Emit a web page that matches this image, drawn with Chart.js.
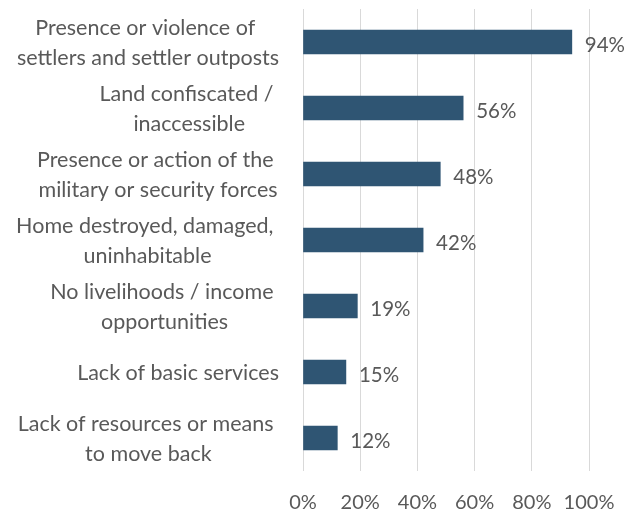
<!DOCTYPE html>
<html>
<head>
<meta charset="utf-8">
<script src="https://cdn.jsdelivr.net/npm/chart.js@4"></script>
<style>
  html, body { margin: 0; padding: 0; background: #fff; }
  #wrap { width: 641px; height: 513px; }
</style>
</head>
<body>
<div id="wrap"><canvas id="chart"></canvas></div>
<script>
// Data
const categories = [
    ['Presence or violence of ', 'settlers and settler outposts'],
    ['Land confiscated / ', 'inaccessible'],
    ['Presence or action of the ', 'military or security forces'],
    ['Home destroyed, damaged, ', 'uninhabitable'],
    ['No livelihoods / income ', 'opportunities'],
    ['Lack of basic services'],
    ['Lack of resources or means ', 'to move back']
];
const shares = [94, 56, 48, 42, 19, 15, 12];
const tickValues = [0, 20, 40, 60, 80, 100];

const FONT = 'Lato, "Open Sans", sans-serif';
const TEXT = '#595959';

// category labels: lines centred in a block, block right-aligned to the axis
const categoryLabels = {
    id: 'categoryLabels',
    afterDraw(chart) {
        const ctx = chart.ctx;
        const yScale = chart.scales.y;
        const right = 279;
        const lineH = 29.5;
        ctx.save();
        ctx.font = '21.5px ' + FONT;
        ctx.fillStyle = TEXT;
        ctx.textAlign = 'left';
        ctx.textBaseline = 'middle';
        categories.forEach((lines, i) => {
            const y = yScale.getPixelForValue(i);
            const blockW = Math.max(...lines.map(l => ctx.measureText(l).width));
            const cx = right - blockW / 2;
            lines.forEach((line, j) => {
                const w = ctx.measureText(line).width;
                const ly = y + 1 + (j - (lines.length - 1) / 2) * lineH;
                ctx.fillText(line, cx - w / 2, ly);
            });
        });
        ctx.restore();
    }
};

// value labels at the end of each bar
const valueLabels = {
    id: 'valueLabels',
    afterDatasetsDraw(chart) {
        const ctx = chart.ctx;
        const meta = chart.getDatasetMeta(0);
        ctx.save();
        ctx.font = '20.5px ' + FONT;
        ctx.fillStyle = TEXT;
        ctx.textAlign = 'left';
        ctx.textBaseline = 'middle';
        meta.data.forEach((bar, i) => {
            ctx.fillText(shares[i] + '%', bar.x + 13, bar.y + 3);
        });
        ctx.restore();
    }
};

new Chart(document.getElementById('chart'), {
    type: 'bar',
    data: {
        labels: categories.map(c => c.join('')),
        datasets: [{
            data: shares,
            backgroundColor: '#2F5573',
            barThickness: 24
        }]
    },
    options: {
        indexAxis: 'y',
        responsive: true,
        maintainAspectRatio: false,
        animation: false,
        layout: { padding: { top: 9, right: 52, bottom: 0, left: 0 } },
        plugins: {
            legend: { display: false },
            tooltip: { enabled: false }
        },
        scales: {
            x: {
                min: 0,
                max: 100,
                afterBuildTicks: (scale) => {
                    scale.ticks = tickValues.map(v => ({ value: v }));
                },
                afterFit: (scale) => { scale.height = 42; },
                grid: { color: '#D9D9D9', drawTicks: false },
                border: { display: false },
                ticks: {
                    padding: 20,
                    color: TEXT,
                    maxRotation: 0,
                    minRotation: 0,
                    autoSkip: false,
                    font: { family: FONT, size: 20 },
                    callback: (v) => v + '%'
                }
            },
            y: {
                afterFit: (scale) => { scale.width = 303; },
                grid: { display: false },
                border: { display: false },
                ticks: { display: false }
            }
        }
    },
    plugins: [categoryLabels, valueLabels]
});
</script>
</body>
</html>
